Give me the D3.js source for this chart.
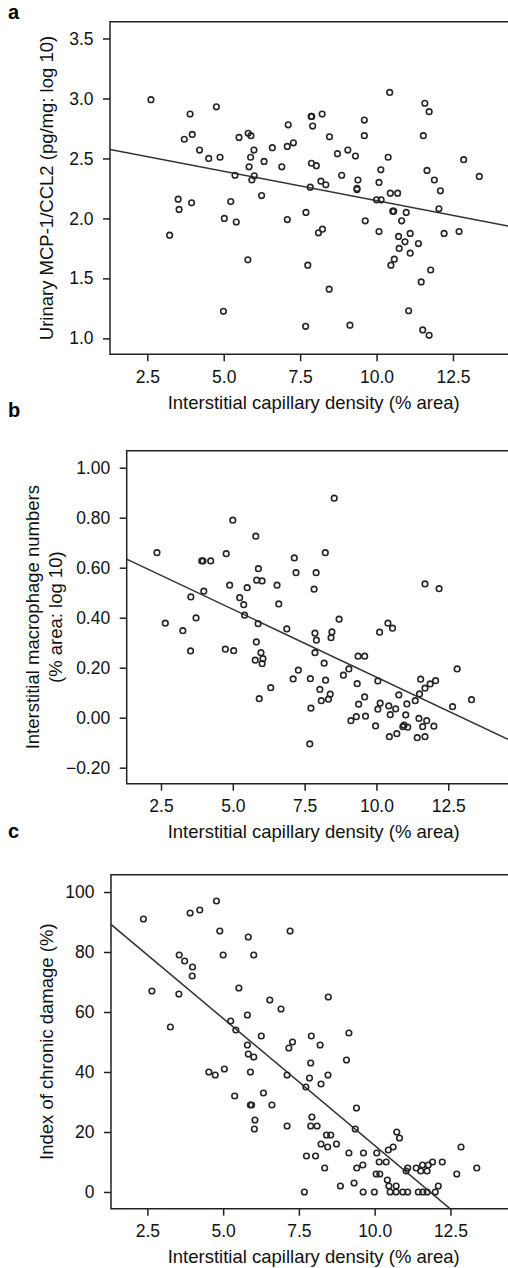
<!DOCTYPE html>
<html>
<head>
<meta charset="utf-8">
<script src="https://cdn.jsdelivr.net/npm/d3@7"></script>
<style>
  html, body { margin: 0; padding: 0; background: #fff; }
  svg { display: block; font-family: "Liberation Sans", Arial, Helvetica, sans-serif; }
</style>
</head>
<body>
<svg id="fig" width="508" height="1268"></svg>
<script>
// ---- data ----
const xTicks = [2.5, 5.0, 7.5, 10.0, 12.5];
const xTitle = "Interstitial capillary density (% area)";

// panel a: urinary MCP-1/CCL2 (log10)
const aTicks = [1.0, 1.5, 2.0, 2.5, 3.0, 3.5];
const aFit = { b0: 2.638, b1: -0.049 };
const aPoints = [
  [2.62,2.99],[3.90,2.87],[4.76,2.93],[3.71,2.66],[3.97,2.70],[4.21,2.57],[4.51,2.50],[4.88,2.51],
  [5.37,2.36],[5.50,2.675],[5.80,2.71],[5.89,2.69],[5.99,2.57],[5.88,2.51],[5.83,2.43],[6.00,2.355],
  [5.92,2.32],[6.32,2.475],[6.59,2.59],[6.90,2.43],[7.11,2.78],[7.08,2.60],[6.24,2.19],
  [3.51,2.16],[3.54,2.075],[3.95,2.13],[3.23,1.86],[5.23,2.14],[5.02,2.00],[5.41,1.97],[5.79,1.655],
  [4.99,1.225],[7.08,1.99],
  [10.43,3.05],[11.58,2.96],[11.72,2.89],[7.88,2.85],[7.86,2.85],[8.22,2.87],[7.91,2.77],[9.60,2.82],
  [9.60,2.69],[8.46,2.68],[11.53,2.69],[7.28,2.63],[8.72,2.54],[9.06,2.57],[9.31,2.52],[10.38,2.51],
  [7.87,2.46],[8.03,2.44],[8.86,2.36],[9.39,2.32],[9.36,2.24],[9.36,2.25],[8.18,2.31],[8.34,2.28],
  [7.83,2.26],[10.14,2.405],[10.08,2.30],[10.45,2.21],[10.69,2.21],[11.65,2.40],[11.89,2.32],
  [12.09,2.23],[12.85,2.49],[13.36,2.35],[10.00,2.155],[10.15,2.155],
  [12.04,2.08],[7.69,2.05],[9.63,1.98],[8.10,1.88],[8.23,1.91],[10.08,1.89],[10.53,2.06],[10.56,2.06],
  [10.97,2.05],[10.82,1.98],[10.72,1.85],[11.10,1.875],[10.93,1.805],[11.37,1.79],[10.74,1.75],
  [11.10,1.71],[10.58,1.66],[10.47,1.61],[12.21,1.875],[12.70,1.89],[7.75,1.61],[8.45,1.41],
  [11.77,1.57],[11.46,1.47],[11.05,1.23],[7.68,1.10],[9.13,1.11],[11.51,1.07],[11.72,1.025]
];

// panel b: interstitial macrophage numbers (log10)
const bTicks = [-0.2, 0.0, 0.2, 0.4, 0.6, 0.8, 1.0];
const bFit = { b0: 0.705, b1: -0.0543 };
const bPoints = [
  [2.36,0.66],[5.00,0.79],[5.80,0.726],[3.92,0.627],[3.96,0.627],[4.23,0.627],[4.77,0.656],[5.89,0.596],
  [5.83,0.55],[6.02,0.547],[6.54,0.53],[4.89,0.53],[5.50,0.52],[5.24,0.48],[5.38,0.452],[6.60,0.455],
  [3.99,0.506],[3.54,0.483],
  [2.65,0.378],[3.26,0.348],[3.72,0.399],[3.53,0.267],[4.74,0.274],[5.03,0.268],[5.41,0.41],[5.88,0.376],
  [5.82,0.303],[5.98,0.26],[6.05,0.236],[5.78,0.23],[6.02,0.216],[6.32,0.12],[5.92,0.076],[6.88,0.355],
  [8.53,0.878],[8.22,0.66],[7.14,0.639],[7.20,0.58],[7.90,0.58],[7.83,0.514],[11.69,0.535],[12.18,0.516],
  [8.70,0.394],[7.86,0.338],[7.91,0.31],[8.45,0.343],[8.42,0.32],[10.11,0.342],[10.40,0.378],[10.56,0.358],
  [7.86,0.26],[9.36,0.246],[9.59,0.246],[8.18,0.218],[7.28,0.19],[9.04,0.195],[7.10,0.155],[7.70,0.156],
  [8.23,0.15],[8.85,0.17],[9.33,0.136],[10.05,0.147],[8.03,0.113],[8.39,0.094],[8.33,0.074],[8.08,0.068],
  [9.59,0.083],[9.38,0.054],[10.13,0.058],[10.05,0.034],[10.43,0.047],[10.67,0.035],[10.48,0.012],
  [10.78,0.091],[11.06,0.055],[11.02,0.011],[11.35,0.068],[11.50,0.095],[11.54,0.154],[11.69,0.118],
  [11.87,0.135],[12.06,0.148],[12.81,0.195],[13.31,0.072],[12.65,0.044],[9.30,0.004],[9.11,-0.012],
  [9.62,0.006],[9.97,-0.033],[10.96,-0.03],[10.92,-0.036],[11.09,-0.038],[11.48,-0.003],[11.75,-0.012],
  [11.61,-0.036],[12.00,-0.034],[10.45,-0.076],[10.71,-0.064],[11.42,-0.08],[11.69,-0.076],
  [7.68,-0.105],[7.72,0.038]
];

// panel c: index of chronic damage (%)
const cTicks = [0, 20, 40, 60, 80, 100];
const cFit = { b0: 100.2, b1: -8.47 };
const cPoints = [
  [2.37,91],[3.91,93],[4.23,94],[4.78,97],[4.89,87],[5.83,85],[3.55,79],[3.73,77],[3.99,75],[3.98,72],
  [5.00,79],[6.01,79],[2.65,67],[3.54,66],[5.52,68],[6.54,64],[6.91,61],[7.21,87],[3.26,55],[5.25,57],
  [5.42,54],[5.80,59],[6.26,52],[5.80,49],
  [8.47,65],[9.15,53],[7.91,52],[8.20,49],[7.29,50],[7.17,48],
  [9.07,44],[7.89,43],[7.85,38],[8.46,39],[8.23,36],[7.11,39],[7.73,35],[9.40,28],[7.93,25],[7.89,22],
  [8.10,22],[7.11,22],[9.36,21],[8.41,19],[8.55,19],[8.23,16],[8.45,15],[8.74,16],[7.75,12],[8.05,12],
  [8.35,8],[7.68,0],[8.87,2],[9.32,3],[9.15,13],[9.63,13],[9.41,8],[9.61,9],[9.62,0],[9.99,0],
  [10.73,20],[10.82,18],[10.45,14],[10.61,15],[10.07,13],[10.15,10],[10.38,10],[10.05,6],[10.17,6],
  [10.42,4],[10.47,2],[10.71,2],[10.51,0],[10.71,0],[10.93,0],[11.09,0],[11.04,7],[11.09,8],[11.37,8],
  [11.52,7],[11.58,9],[11.73,7],[11.77,9],[11.91,10],[12.23,10],[11.44,0],[11.59,0],[11.73,0],[12.00,0],
  [12.10,2],[12.71,6],[12.85,15],[13.37,8],
  [4.53,40],[4.74,39],[5.04,41],[5.90,40],[5.38,32],[6.33,33],[5.90,29],[5.94,29],[6.61,29],[6.05,24],
  [6.03,21],[5.83,46],[6.01,45]
];

const ink = "#222";
const svg = d3.select("#fig");

function panel(o) {
  const g = svg.append("g");
  const x = d3.scaleLinear().domain(o.xDomain).range([o.left, 508]);
  const y = d3.scaleLinear().domain(o.yDomain).range([o.bottom, o.top]);

  const clipId = "clip-" + o.label;
  svg.append("clipPath").attr("id", clipId)
    .append("rect").attr("x", o.left).attr("y", o.top)
    .attr("width", 508 - o.left).attr("height", o.bottom - o.top);

  // regression line
  g.append("line")
    .attr("clip-path", `url(#${clipId})`)
    .attr("x1", x(o.xDomain[0])).attr("y1", y(o.fit.b0 + o.fit.b1 * o.xDomain[0]))
    .attr("x2", x(o.xDomain[1])).attr("y2", y(o.fit.b0 + o.fit.b1 * o.xDomain[1]))
    .attr("stroke", "#333").attr("stroke-width", 1.5);

  // points
  g.selectAll(".pt").data(o.points).enter().append("circle")
    .attr("class", "pt")
    .attr("cx", d => x(d[0])).attr("cy", d => y(d[1]))
    .attr("r", 2.8)
    .attr("fill", "none").attr("stroke", "#262626").attr("stroke-width", 1.6);

  // frame (right side runs off the picture)
  g.append("path")
    .attr("d", `M530,${o.top}H${o.left}V${o.bottom}H530`)
    .attr("fill", "none").attr("stroke", ink).attr("stroke-width", 1.5);

  // axes
  const ax = g.append("g").attr("transform", `translate(0,${o.bottom})`)
    .call(d3.axisBottom(x).tickValues(xTicks).tickSize(7).tickPadding(9).tickFormat(d3.format(".1f")));
  const ay = g.append("g").attr("transform", `translate(${o.left},0)`)
    .call(d3.axisLeft(y).tickValues(o.yTicks).tickSize(7).tickPadding(9.5).tickFormat(d3.format(o.yFmt)));
  [ax, ay].forEach(a => {
    a.select(".domain").remove();
    a.selectAll("line").attr("stroke", ink).attr("stroke-width", 1.5);
    a.selectAll("text").attr("fill", "#111").style("font-size", "17.5px").style("font-family", "inherit");
  });

  // axis titles
  g.append("text")
    .attr("x", 313.7).attr("y", o.bottom + 54.5)
    .attr("text-anchor", "middle").attr("fill", "#111")
    .style("font-size", "18.5px")
    .text(xTitle);

  const mid = (o.top + o.bottom) / 2;
  o.yTitle.forEach((t, i) => {
    g.append("text")
      .attr("transform", `translate(${o.yTitleX[i]},${mid}) rotate(-90)`)
      .attr("text-anchor", "middle").attr("fill", "#111")
      .style("font-size", "18.5px")
      .text(t);
  });

  // panel letter
  g.append("text")
    .attr("x", 8).attr("y", o.letterY)
    .attr("fill", "#000").style("font-size", "20px").style("font-weight", "bold")
    .text(o.label);
}

panel({
  label: "a", letterY: 19, left: 110, top: 21.7, bottom: 354.3,
  xDomain: [1.28, 14.3], yDomain: [0.867, 3.64],
  yTicks: aTicks, yFmt: ".1f", fit: aFit, points: aPoints,
  yTitle: ["Urinary MCP-1/CCL2 (pg/mg: log 10)"], yTitleX: [53]
});

panel({
  label: "b", letterY: 417, left: 126.7, top: 450.7, bottom: 783.7,
  xDomain: [1.306, 14.58], yDomain: [-0.264, 1.068],
  yTicks: bTicks, yFmt: ".2f", fit: bFit, points: bPoints,
  yTitle: ["Interstitial macrophage numbers", "(% area: log 10)"], yTitleX: [39, 62]
});

panel({
  label: "c", letterY: 838, left: 111, top: 874.7, bottom: 1208.7,
  xDomain: [1.30, 14.4], yDomain: [-5.57, 105.77],
  yTicks: cTicks, yFmt: "d", fit: cFit, points: cPoints,
  yTitle: ["Index of chronic damage (%)"], yTitleX: [53]
});
</script>
</body>
</html>
